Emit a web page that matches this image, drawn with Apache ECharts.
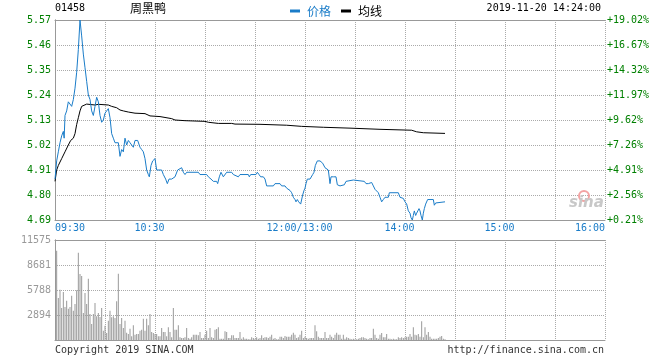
<!DOCTYPE html>
<html><head><meta charset="utf-8">
<script src="https://cdn.jsdelivr.net/npm/echarts@6/dist/echarts.min.js"></script>
<style>html,body{margin:0;padding:0;background:#fff}#c{width:660px;height:360px}</style>
</head><body><div id="c"></div>
<script>
const stockCode = '01458';
const stockName = '周黑鸭';
const timeStamp = '2019-11-20 14:24:00';
const prevClose = 4.68;
const priceMinV = 4.69, priceMaxV = 5.57, priceStep = 0.11;
const volMaxV = 11575;
const tickMinutes = [0, 60, 150, 210, 270, 330];
const tickLabels = ['09:30', '10:30', '12:00/13:00', '14:00', '15:00', '16:00'];

// [minute since 09:30 (lunch removed), price]
const pricePts = [
[0,4.87],[1,4.95],[2,4.99],[3,5.03],[4,5.06],[5,5.08],[5.5,5.05],[6,5.15],[7,5.17],[8,5.21],[9,5.21],[10,5.19],[11,5.22],[12,5.27],[13,5.34],[14,5.44],[15,5.57],[16,5.50],[17,5.42],[18,5.36],[19,5.30],[20,5.24],[21,5.22],[22,5.17],[23,5.15],[24,5.19],[25,5.23],[26,5.21],[27,5.15],[28,5.12],[29,5.13],[30,5.16],[31,5.17],[32,5.18],[33,5.14],[34,5.07],[35,5.05],[36,5.03],[38,5.03],[39,4.97],[40,5.00],[41,4.99],[42,5.05],[43,5.02],[44,5.04],[45,5.03],[46,5.02],[47,5.01],[48,5.04],[49.6,5.04],[51,5.01],[52,5.00],[53,4.99],[54,4.96],[55,4.91],[56,4.89],[56.6,4.88],[57.6,4.93],[58.6,4.95],[60,4.96],[61,4.91],[64,4.91],[65,4.89],[66.4,4.87],[67.4,4.85],[68.4,4.87],[70,4.87],[72,4.88],[73.6,4.91],[76,4.92],[77,4.90],[78,4.89],[79,4.90],[86,4.90],[87,4.89],[91,4.89],[92,4.88],[93.6,4.87],[95,4.86],[97,4.86],[97.6,4.85],[98.6,4.88],[99.6,4.90],[101,4.88],[103,4.90],[106,4.90],[107,4.89],[110,4.88],[111,4.89],[116,4.89],[116.6,4.88],[117.4,4.89],[120.6,4.89],[121.4,4.90],[122.4,4.89],[123.4,4.88],[125,4.88],[126,4.87],[127,4.84],[131,4.84],[132,4.85],[135,4.85],[136,4.84],[138,4.84],[139,4.83],[141,4.82],[142,4.81],[143,4.79],[144,4.78],[144.6,4.77],[145.4,4.78],[146.2,4.77],[147.4,4.76],[148,4.755],[148.6,4.80],[149.4,4.82],[150,4.83],[150.6,4.85],[151.4,4.87],[153,4.87],[154.6,4.89],[155.4,4.90],[156.2,4.93],[157.4,4.95],[159,4.95],[160.6,4.94],[162,4.92],[163,4.92],[164,4.91],[165,4.85],[165.6,4.88],[167,4.88],[168.6,4.88],[169.4,4.845],[171,4.84],[172,4.84],[173.6,4.845],[174.6,4.86],[175,4.866],[179,4.866],[180,4.86],[185.6,4.86],[186.6,4.85],[188,4.85],[189,4.855],[190,4.855],[191,4.84],[192,4.825],[193,4.825],[194,4.81],[195,4.79],[196,4.77],[197,4.78],[198,4.79],[199,4.785],[200,4.79],[200.6,4.81],[206,4.81],[207,4.79],[209,4.785],[210,4.77],[211,4.76],[212,4.73],[213,4.72],[213.6,4.70],[214.4,4.69],[215,4.71],[215.6,4.73],[216.4,4.71],[217,4.72],[217.6,4.715],[218.4,4.74],[219,4.73],[219.6,4.71],[220.4,4.69],[221,4.72],[221.6,4.74],[222.4,4.76],[223.6,4.78],[227,4.78],[227.6,4.755],[228.4,4.765],[229,4.77],[234,4.77]
];

// [minute, average price]
const avgPts = [
[0,4.86],[1,4.91],[2,4.93],[4,4.96],[6,4.99],[8,5.02],[9.4,5.04],[11,5.05],[12,5.07],[13,5.11],[14,5.14],[15,5.17],[16,5.19],[17,5.196],[19,5.20],[24,5.196],[26,5.199],[32,5.196],[34,5.19],[37,5.184],[39,5.174],[41,5.17],[44,5.165],[48,5.16],[54,5.158],[57,5.148],[63,5.145],[64,5.14],[70,5.136],[72,5.13],[78,5.127],[90,5.124],[92,5.12],[98,5.115],[106,5.115],[108,5.112],[123,5.111],[124,5.107],[139,5.107],[140,5.102],[148,5.102],[148.6,5.098],[161,5.098],[162,5.094],[177.6,5.094],[178,5.089],[195,5.089],[196,5.085],[214,5.085],[214.4,5.08],[217,5.078],[217.6,5.074],[221,5.074],[221.6,5.071],[234,5.071]
];

// volume per minute, starting at minute 1
const volumes = [
10340,4860,5830,3700,5560,3820,4550,3630,3820,5130,
3400,4170,5750,10110,7640,7410,3130,5440,4170,7100,
3000,1850,3010,4280,2740,3130,2660,3700,1080,1660,
810,2240,3400,2620,2740,2550,4480,7680,1850,2550,
1390,2240,850,690,1310,420,1700,620,690,690,
1080,1200,2470,1080,2470,1700,3010,930,810,690,
690,420,420,1390,930,930,420,1470,930,310,
3700,1200,1200,1700,310,230,230,310,1390,230,
150,310,620,620,620,540,930,230,230,620,
1080,230,1390,310,230,1200,1270,1470,150,150,
150,1000,930,230,230,540,540,230,230,230,
930,150,310,150,150,80,80,310,230,150,
310,150,230,540,230,310,310,230,390,620,
150,230,80,80,390,390,230,460,390,390,
390,620,850,620,230,310,620,1080,230,390,
230,150,230,230,230,1700,1000,390,230,230,
230,930,230,230,620,390,230,620,850,620,
620,150,620,150,310,230,150,80,150,80,
80,150,230,310,310,230,150,80,230,230,
1310,620,230,150,620,810,310,310,690,150,
150,80,150,80,80,310,230,310,230,310,
390,390,690,390,1470,620,540,690,390,2160,
310,1470,620,930,390,150,150,150,150,230,
390,460,150,80
];

const BLUE = '#1a7cc8', GREEN = '#008000', GRID = '#aaaaaa', BORDER = '#999999';
const MONO = '"DejaVu Sans Mono", "Liberation Mono", monospace';
const CJK = '"Noto Sans CJK SC", sans-serif';

const chart = echarts.init(document.getElementById('c'), null, {renderer: 'canvas'});

function xAxisBase(grid, pos, labels, split) {
  return {
    type: 'value', gridIndex: grid, position: pos, min: 0, max: 330, interval: 30,
    axisLine: {show: true, onZero: false, lineStyle: {color: BORDER, width: 1}},
    axisTick: {show: false},
    splitLine: {show: split, lineStyle: {color: GRID, type: 'dotted', width: 1}},
    axisLabel: labels ? {
      show: true, margin: 3, color: BLUE, fontFamily: MONO, fontSize: 10,
      showMinLabel: true, showMaxLabel: true,
      formatter: function (v) {
        const i = tickMinutes.indexOf(Math.round(v));
        if (i < 0) return '';
        if (i === 0) return '{l|' + tickLabels[i] + '}';
        if (i === tickMinutes.length - 1) return '{r|' + tickLabels[i] + '}';
        return '{c|' + tickLabels[i] + '}';
      },
      rich: {
        l: {color: BLUE, fontFamily: MONO, fontSize: 10, padding: [0, 0, 0, 30]},
        r: {color: BLUE, fontFamily: MONO, fontSize: 10, padding: [0, 30, 0, 0]},
        c: {color: BLUE, fontFamily: MONO, fontSize: 10, padding: [0, 11, 0, 0]}
      }
    } : {show: false}
  };
}

const option = {
  animation: false,
  backgroundColor: '#fff',
  grid: [
    {left: 55, top: 20, width: 550, height: 200},
    {left: 55, top: 240, width: 550, height: 100}
  ],
  legend: {
    left: 285, top: 0, itemWidth: 10, itemHeight: 3, itemGap: 10, icon: 'rect',
    selectedMode: false,
    textStyle: {fontSize: 12, fontFamily: CJK, padding: [0, 0, 0, 2]},
    data: [
      {name: '价格', textStyle: {color: BLUE}},
      {name: '均线', textStyle: {color: '#000'}}
    ]
  },
  xAxis: [
    xAxisBase(0, 'bottom', true, true),
    xAxisBase(0, 'top', false, false),
    xAxisBase(1, 'bottom', false, true),
    xAxisBase(1, 'top', false, false)
  ],
  yAxis: [
    {
      type: 'value', gridIndex: 0, position: 'left', min: priceMinV, max: priceMaxV, interval: priceStep,
      axisLine: {show: true, lineStyle: {color: BORDER}}, axisTick: {show: false},
      splitLine: {show: true, lineStyle: {color: GRID, type: 'dotted'}},
      axisLabel: {margin: 4, color: GREEN, fontFamily: MONO, fontSize: 10, padding: [0, 0, 5, 0],
        formatter: v => v.toFixed(2)}
    },
    {
      type: 'value', gridIndex: 0, position: 'right', min: priceMinV, max: priceMaxV, interval: priceStep,
      axisLine: {show: true, lineStyle: {color: BORDER}}, axisTick: {show: false},
      splitLine: {show: false},
      axisLabel: {margin: 2, color: GREEN, fontFamily: MONO, fontSize: 10, padding: [0, 0, 5, 0],
        formatter: v => '+' + ((v / prevClose - 1) * 100).toFixed(2) + '%'}
    },
    {
      type: 'value', gridIndex: 1, position: 'left', min: 0, max: volMaxV, interval: volMaxV / 4,
      axisLine: {show: true, lineStyle: {color: BORDER}}, axisTick: {show: false},
      splitLine: {show: true, lineStyle: {color: GRID, type: 'dotted'}},
      axisLabel: {margin: 4, color: '#999', fontFamily: MONO, fontSize: 10, padding: [0, 0, 5, 0],
        formatter: v => v === 0 ? '' : String(Math.round(v))}
    },
    {
      type: 'value', gridIndex: 1, position: 'right', min: 0, max: volMaxV, interval: volMaxV / 4,
      axisLine: {show: true, lineStyle: {color: BORDER}}, axisTick: {show: false},
      splitLine: {show: false}, axisLabel: {show: false}
    }
  ],
  series: [
    {
      name: '价格', type: 'line', xAxisIndex: 0, yAxisIndex: 0, data: pricePts,
      showSymbol: false, symbol: 'none', color: BLUE, lineStyle: {color: BLUE, width: 1}, z: 3
    },
    {
      name: '均线', type: 'line', xAxisIndex: 0, yAxisIndex: 0, data: avgPts,
      showSymbol: false, symbol: 'none', color: '#000', lineStyle: {color: '#000', width: 1}, z: 2
    },
    {
      name: '成交量', type: 'bar', xAxisIndex: 2, yAxisIndex: 2,
      data: volumes.map((v, i) => [i + 1, v]), barWidth: 1,
      itemStyle: {color: '#999'}
    }
  ],
  graphic: [
    {type: 'text', left: 55, top: 3, style: {text: stockCode, font: '10px ' + MONO, fill: '#000'}},
    {type: 'text', left: 130, top: 2, style: {text: stockName, font: '12px ' + CJK, fill: '#000'}},
    {type: 'text', right: 59, top: 3, style: {text: timeStamp, font: '10px ' + MONO, fill: '#000'}},
    {type: 'text', left: 55, top: 345, style: {text: 'Copyright 2019 SINA.COM', font: '10px ' + MONO, fill: '#333'}},
    {type: 'text', right: 56, top: 345, style: {text: 'http://finance.sina.com.cn', font: '10px ' + MONO, fill: '#333'}},
    {type: 'circle', shape: {cx: 584, cy: 196, r: 5}, style: {fill: 'none', stroke: '#f3a3a3', lineWidth: 2}, z: 1},
    {type: 'text', left: 569, top: 196, style: {text: 'sina', font: 'italic bold 15px "DejaVu Sans", sans-serif', fill: '#c8c8c8'}, z: 1}
  ]
};
chart.setOption(option);
</script>
</body></html>
